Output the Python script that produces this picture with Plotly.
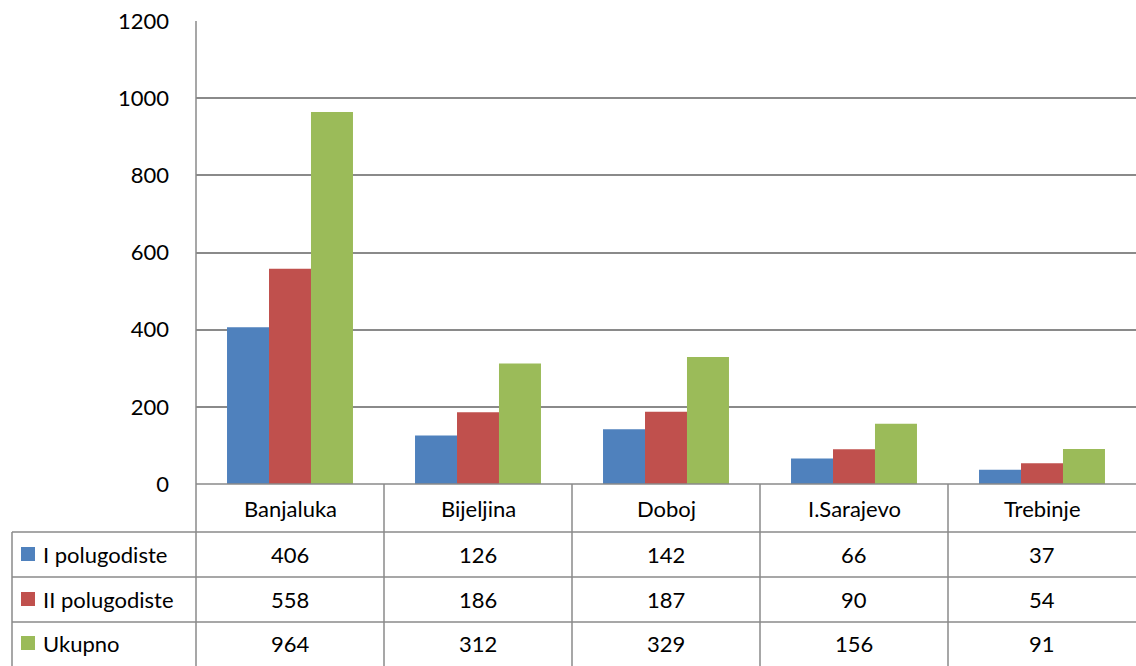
import plotly.graph_objects as go

categories = ["Banjaluka", "Bijeljina", "Doboj", "I.Sarajevo", "Trebinje"]
series_names = ["I polugodiste", "II polugodiste", "Ukupno"]
s1 = [406, 126, 142, 66, 37]
s2 = [558, 186, 187, 90, 54]
s3 = [964, 312, 329, 156, 91]
colors = ["#4F81BD", "#C0504D", "#9BBB59"]
y_ticks = [0, 200, 400, 600, 800, 1000, 1200]

W, H = 1136, 666
PLOT_L, PLOT_T, PLOT_B = 196, 21, 484  # pixel coords of plot area
L = PLOT_L
T = PLOT_T
B = H - PLOT_B
R = 0
PW = W - L - R
PH = H - T - B
FONT = "Lato"
FS = 22
GRID = "#8A8A8A"


def px(xp):
    return (xp - PLOT_L) / PW


def py(yp):
    return (PLOT_B - yp) / PH


fig = go.Figure()
for name, vals, c in zip(series_names, [s1, s2, s3], colors):
    fig.add_trace(go.Bar(x=categories, y=vals, name=name, marker=dict(color=c, line=dict(width=0))))

shapes = []
annotations = []
row_lines = [PLOT_B, 532, 577, 622]
bottom = H + 5
shapes.append(dict(type="line", xref="paper", yref="paper", x0=0, x1=1, y0=0, y1=0, line=dict(color=GRID, width=1.5)))
for yl in row_lines[1:]:
    shapes.append(dict(type="line", xref="paper", yref="paper", x0=px(12), x1=1, y0=py(yl), y1=py(yl), line=dict(color=GRID, width=1.5)))
shapes.append(dict(type="line", xref="paper", yref="paper", x0=px(12), x1=px(12), y0=py(532), y1=py(bottom), line=dict(color=GRID, width=1.5)))
shapes.append(dict(type="line", xref="paper", yref="paper", x0=0, x1=0, y0=1, y1=py(bottom), line=dict(color=GRID, width=1.5)))
for i in range(1, len(categories)):
    shapes.append(dict(type="line", xref="x", yref="paper", x0=i - 0.5, x1=i - 0.5, y0=0, y1=py(bottom), line=dict(color=GRID, width=1.5)))

row_centers = [508, 554, 599, 643]
for i, cat in enumerate(categories):
    annotations.append(dict(x=cat, y=py(row_centers[0]), xref="x", yref="paper", text=cat, showarrow=False,
                            xanchor="center", yanchor="middle", font=dict(family=FONT, size=FS, color="#000")))
    for r, vals in enumerate([s1, s2, s3]):
        annotations.append(dict(x=cat, y=py(row_centers[r + 1]), xref="x", yref="paper", text=str(vals[i]), showarrow=False,
                                xanchor="center", yanchor="middle", font=dict(family=FONT, size=FS, color="#000")))

for r, (name, c) in enumerate(zip(series_names, colors)):
    yc = row_centers[r + 1]
    shapes.append(dict(type="rect", xref="paper", yref="paper", x0=px(21), x1=px(35), y0=py(yc - 7), y1=py(yc + 7),
                       fillcolor=c, line=dict(width=0)))
    annotations.append(dict(x=px(41), y=py(yc), xref="paper", yref="paper", text=name, showarrow=False,
                            xanchor="left", yanchor="middle", font=dict(family=FONT, size=FS, color="#000")))

fig.update_layout(
    width=W, height=H,
    margin=dict(l=L, r=R, t=T, b=B, pad=0),
    paper_bgcolor="white", plot_bgcolor="white",
    barmode="group", bargap=0.33, bargroupgap=0,
    showlegend=False,
    shapes=shapes, annotations=annotations,
    font=dict(family=FONT, size=FS, color="#000"),
)
fig.update_xaxes(showticklabels=False, showgrid=False, showline=False, zeroline=False, ticks="")
fig.update_yaxes(range=[0, 1200.01], tickvals=y_ticks, showgrid=True, gridcolor=GRID, gridwidth=1.5,
                 zeroline=False, showline=False, ticks="", ticklabelstandoff=26,
                 tickfont=dict(family=FONT, size=FS, color="#000"))

fig.write_html(
    "out.html",
    config={"displayModeBar": False},
    post_script="document.body.style.margin='0';document.body.style.overflow='hidden';",
)
